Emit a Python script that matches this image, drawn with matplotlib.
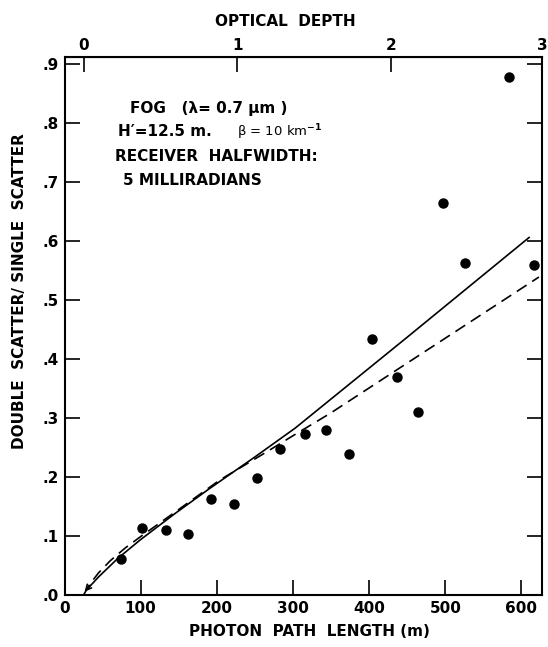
import numpy as np
import matplotlib
matplotlib.use("Agg")
import matplotlib.pyplot as plt

# measured points (photon path length in m, double/single scatter ratio)
path_m = [74, 102, 133, 162, 192, 223, 253, 283, 316, 344, 373, 404, 436, 464, 497, 526, 584, 617]
ratio = [0.061, 0.113, 0.111, 0.104, 0.163, 0.154, 0.199, 0.247, 0.273, 0.279, 0.239,
         0.434, 0.369, 0.310, 0.664, 0.563, 0.878, 0.559]

# solid curve (calculation)
solid_x = [30, 45, 70, 100, 145, 190, 250, 303, 450, 610]
solid_y = [0.010, 0.031, 0.062, 0.094, 0.138, 0.180, 0.234, 0.283, 0.437, 0.606]

# dashed curve (approximation)
dash_x = [25, 33, 45, 60, 80, 101, 150, 204, 266, 300, 349, 623]
dash_y = [0.0, 0.018, 0.038, 0.058, 0.080, 0.100, 0.145, 0.195, 0.243, 0.270, 0.308, 0.539]

yticks = [0.0, 0.1, 0.2, 0.3, 0.4, 0.5, 0.6, 0.7, 0.8, 0.9]
ytick_labels = [".0", ".1", ".2", ".3", ".4", ".5", ".6", ".7", ".8", ".9"]
xticks = [0, 100, 200, 300, 400, 500, 600]
tau_ticks = [0, 1, 2, 2.98]
tau_labels = ["0", "1", "2", "3"]

plt.rcParams["font.family"] = ["DejaVu Sans"]
plt.rcParams["font.weight"] = "bold"

W, H = 548, 647
fig = plt.figure(figsize=(W / 100, H / 100), dpi=100)
ax = fig.add_axes([64.5 / W, 1 - 595 / H, (542 - 64.5) / W, (595 - 57) / H])

ax.plot(path_m, ratio, "o", color="black", ms=6.5, zorder=3)
ax.plot(solid_x, solid_y, "-", color="black", lw=1.2)
ax.plot(dash_x, dash_y, "--", color="black", lw=1.2, dashes=(7, 4))
ax.annotate("", xy=(24, 0.002), xytext=(36, 0.02),
            arrowprops=dict(arrowstyle="->", color="black", lw=1.2))

ax.set_xlim(0, 627)
ax.set_ylim(0, 0.912)
ax.set_xticks(xticks)
ax.set_xticklabels([str(v) for v in xticks])
ax.set_yticks(yticks)
ax.set_yticklabels(ytick_labels)

ax.tick_params(axis="both", direction="in", length=11, width=1.2, labelsize=11, color="black")
ax.tick_params(axis="y", right=True, pad=4)
ax.tick_params(axis="x", top=False, pad=4)
for sp in ax.spines.values():
    sp.set_linewidth(1.5)

# optical depth along top
def to_tau(x):
    return (np.asarray(x) - 25.0) / 202.0

def from_tau(t):
    return np.asarray(t) * 202.0 + 25.0

top = ax.secondary_xaxis("top", functions=(to_tau, from_tau))
top.set_xticks(tau_ticks)
top.set_xticklabels(tau_labels)
top.tick_params(direction="in", length=11, width=1.2, labelsize=11, pad=3)

fig.text(285 / W, 1 - 22 / H, "OPTICAL  DEPTH", ha="center", va="center", fontsize=11)
fig.text(309 / W, 1 - 632 / H, "PHOTON  PATH  LENGTH (m)", ha="center", va="center", fontsize=11)
fig.text(20 / W, 1 - 291 / H, "DOUBLE  SCATTER/ SINGLE  SCATTER", ha="center", va="center",
         rotation=90, fontsize=11)

ax.text(86, 0.825, "FOG   (λ= 0.7 μm )", ha="left", va="center", fontsize=11)
ax.text(70, 0.785, "H′=12.5 m.", ha="left", va="center", fontsize=11)
ax.text(226, 0.785, "β = 10 km$^{-1}$", ha="left", va="center", fontsize=9.5, weight="normal")
ax.text(66, 0.743, "RECEIVER  HALFWIDTH:", ha="left", va="center", fontsize=11)
ax.text(77, 0.703, "5 MILLIRADIANS", ha="left", va="center", fontsize=11)

fig.savefig("out.png", dpi=100)
